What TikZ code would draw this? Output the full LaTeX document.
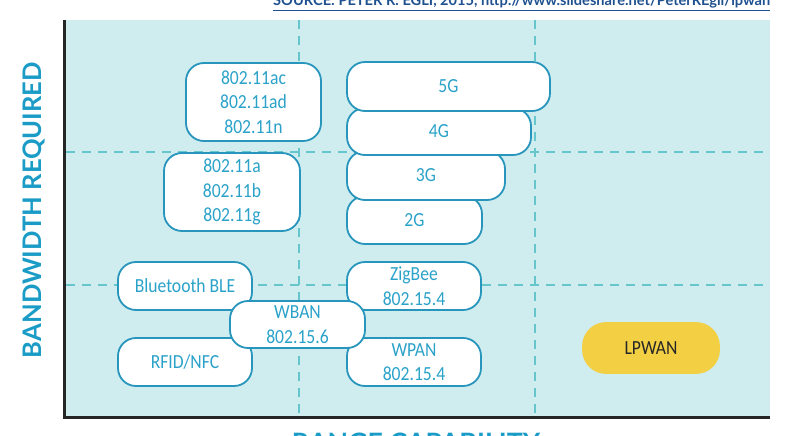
\documentclass[tikz,border=0pt]{standalone}
\usepackage{fontspec}
\setmainfont{Carlito}
\newfontfamily\boxfont{Carlito}[FakeStretch=0.88]
\newfontfamily\labfont{Lato}
\usepackage{graphicx}
\definecolor{bgc}{HTML}{CFECEF}
\definecolor{dashc}{HTML}{66C6CB}
\definecolor{borderc}{HTML}{2896BC}
\definecolor{textc}{HTML}{2BA2C9}
\definecolor{labc}{HTML}{1B9CC6}
\definecolor{srcc}{HTML}{1F5190}
\definecolor{yelc}{HTML}{F3CF43}
\begin{document}
\begin{tikzpicture}[x=1pt,y=-1pt,
  box/.style={draw=borderc, fill=white, line width=1.8pt, rounded corners=18pt,
    text=textc, font=\boxfont\fontsize{20}{24.5}\selectfont, align=center, inner sep=0pt},
  gridline/.style={draw=dashc, line width=2.4pt, dash pattern=on 9pt off 7pt},
  axisline/.style={draw=black!85, line width=2.6pt},
  axlabel/.style={text=labc, inner sep=0pt}]
\useasboundingbox (0,0) rectangle (798,436);
\clip (0,0) rectangle (798,436);
% background
\fill[bgc] (65,20) rectangle (770,417);
% grid coordinates
\coordinate (h1l) at (66,152); \coordinate (h1r) at (770,152);
\coordinate (h2l) at (66,285); \coordinate (h2r) at (770,285);
\coordinate (v1t) at (299,20); \coordinate (v1b) at (299,416);
\coordinate (v2t) at (535,20); \coordinate (v2b) at (535,416);
\draw[gridline] (h1l) -- (h1r);
\draw[gridline] (h2l) -- (h2r);
\draw[gridline] (v1t) -- (v1b);
\draw[gridline] (v2t) -- (v2b);
% axes
\coordinate (ytop) at (64.5,20);
\coordinate (orig) at (64.5,417.5);
\coordinate (xend) at (770,417.5);
\draw[axisline] (ytop) -- (orig) -- (xend);
% labels
\node[axlabel, rotate=90] (ylab) at (34,210)
  {\resizebox{296pt}{!}{\labfont\bfseries BANDWIDTH REQUIRED}};
\node[axlabel, anchor=north] (xlab) at (416,433)
  {\resizebox{248pt}{!}{\labfont\bfseries RANGE CAPABILITY}};
\node[text=srcc, inner sep=0pt, anchor=base west] (src) at (273,5.5)
  {\resizebox{497pt}{!}{\labfont\bfseries\underline{SOURCE: PETER R. EGLI, 2015, http://www.slideshare.net/PeterREgli/lpwan}}};
% boxes
\node[box, minimum width=135pt, minimum height=78pt] (wifiA) at (253.5,102) {802.11ac\\802.11ad\\802.11n};
\node[box, minimum width=136pt, minimum height=78pt] (wifiB) at (232,192) {802.11a\\802.11b\\802.11g};
\node[box, minimum width=135pt, minimum height=48pt] (g2) at (414.5,220) {2G};
\node[box, minimum width=158pt, minimum height=49pt] (g3) at (426,175.5) {3G};
\node[box, minimum width=184pt, minimum height=47pt] (g4) at (439,131.5) {4G};
\node[box, minimum width=203pt, minimum height=49pt] (g5) at (448.5,86.5) {5G};
\node[box, minimum width=134pt, minimum height=48pt] (ble) at (185,286) {Bluetooth BLE};
\node[box, minimum width=134pt, minimum height=48pt] (rfid) at (185,362) {RFID/NFC};
\node[box, minimum width=134pt, minimum height=48pt] (zig) at (414,286) {ZigBee\\802.15.4};
\node[box, minimum width=134pt, minimum height=48pt] (wpan) at (414,362) {WPAN\\802.15.4};
\node[box, minimum width=135pt, minimum height=47pt] (wban) at (297.5,324.5) {WBAN\\802.15.6};
\node[box, draw=yelc, fill=yelc, text=black!85, rounded corners=23pt,
  minimum width=136pt, minimum height=50pt] (lpwan) at (651,348) {LPWAN};
\end{tikzpicture}
\end{document}
